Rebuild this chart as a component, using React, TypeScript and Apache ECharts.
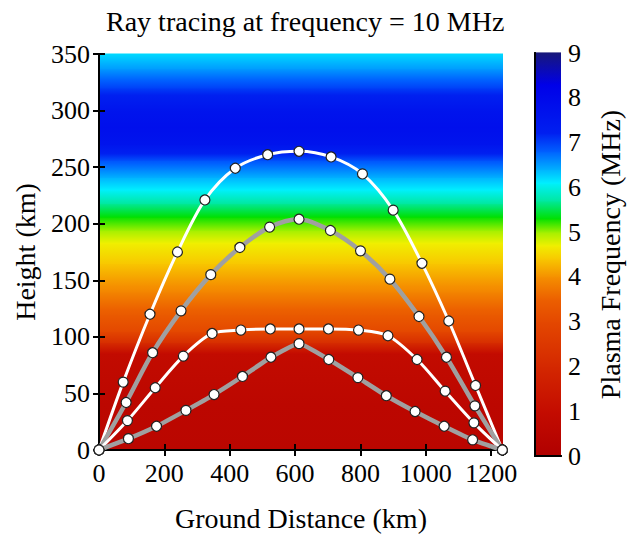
import React, { useEffect, useRef } from 'react';
import * as echarts from 'echarts';

const TITLE = 'Ray tracing at frequency = 10 MHz';
const X_NAME = 'Ground Distance (km)';
const Y_NAME = 'Height (km)';
const CB_NAME = 'Plasma Frequency (MHz)';

const X_MIN = 0;
const X_MAX = 1236;
const Y_MIN = 0;
const Y_MAX = 350;

// plasma frequency profile (height km -> MHz)
const heights = [0, 40, 85, 95, 105, 120, 140, 165, 183, 194, 206, 218, 230, 241, 256, 270, 285, 300, 320, 337, 350];
const plasmaFreq = [0.5, 0.6, 0.9, 2.2, 3.0, 3.4, 3.9, 4.4, 4.7, 5.0, 5.3, 5.7, 6.1, 6.4, 6.9, 7.6, 7.8, 7.6, 7.0, 6.5, 6.2];

// colour scale
const cmapValues = [0, 1, 2, 3, 3.5, 4, 4.4, 4.7, 5.0, 5.3, 5.7, 6.1, 6.4, 6.8, 7.2, 8.3, 9];
const cmapColors = ['#b00000', '#c40c00', '#d42800', '#e44800', '#ec6000', '#f59000', '#f8c800', '#f0f000', '#a0f000', '#00e000', '#00e8a0', '#00f0ff', '#00b0ff', '#0060ff', '#0020f0', '#0000e8', '#181878'];

// ray paths [ground distance km, height km]
const rayA = [[0, 0], [74, 60], [156, 120], [240, 175], [324, 221], [417, 249], [516, 261], [612, 264], [710, 259], [806, 244], [900, 212], [988, 165], [1070, 114], [1152, 57], [1234, 0]];
const rayB = [[0, 0], [83, 42], [164, 86], [251, 123], [342, 155], [431, 179], [522, 197], [612, 204], [708, 194], [800, 176], [890, 151], [979, 118], [1063, 82], [1150, 39], [1234, 0]];
const rayC = [[0, 0], [87, 26], [172, 55], [258, 83], [346, 103], [434, 106], [524, 107], [612, 107], [702, 107], [794, 106], [884, 101], [973, 80], [1059, 52], [1147, 24], [1234, 0]];
const rayD = [[0, 0], [90, 10], [176, 21], [266, 35], [352, 49], [439, 65], [526, 82], [612, 94], [703, 80], [792, 64], [879, 48], [967, 34], [1056, 21], [1143, 9], [1234, 0]];

const rays = [
  { data: rayA, color: '#ffffff', width: 3, smooth: 0.3 },
  { data: rayB, color: '#a0a0a0', width: 4.5, smooth: 0.3 },
  { data: rayC, color: '#ffffff', width: 3, smooth: 0.3 },
  { data: rayD, color: '#a0a0a0', width: 4.5, smooth: 0.15 },
];

const FONT = '"Liberation Serif", "Times New Roman", serif';

function hexToRgb(h: string) {
  return [parseInt(h.slice(1, 3), 16), parseInt(h.slice(3, 5), 16), parseInt(h.slice(5, 7), 16)];
}
function cmap(v: number) {
  const n = cmapValues.length;
  if (v <= cmapValues[0]) return cmapColors[0];
  if (v >= cmapValues[n - 1]) return cmapColors[n - 1];
  let i = 0;
  while (i < n - 2 && v > cmapValues[i + 1]) i++;
  const t = (v - cmapValues[i]) / (cmapValues[i + 1] - cmapValues[i]);
  const a = hexToRgb(cmapColors[i]);
  const b = hexToRgb(cmapColors[i + 1]);
  const c = a.map((x, k) => Math.round(x + (b[k] - x) * t));
  return `rgb(${c[0]},${c[1]},${c[2]})`;
}
// gradient stops for a band whose top value is fTop and bottom value fBot
function bandStops(fTop: number, fBot: number) {
  const stops: { offset: number; color: string }[] = [{ offset: 0, color: cmap(fTop) }];
  const lo = Math.min(fTop, fBot);
  const hi = Math.max(fTop, fBot);
  const mids: number[] = [];
  cmapValues.forEach((c) => {
    if (c > lo && c < hi) mids.push((c - fTop) / (fBot - fTop));
  });
  mids.sort((a, b) => a - b).forEach((t) => {
    stops.push({ offset: t, color: cmap(fTop + (fBot - fTop) * t) });
  });
  stops.push({ offset: 1, color: cmap(fBot) });
  return stops;
}

const fieldBands = heights.slice(0, -1).map((h, i) => [h, heights[i + 1], plasmaFreq[i], plasmaFreq[i + 1]]);
const cbBands = cmapValues.slice(0, -1).map((v, i) => [0.5, v, cmapValues[i + 1]]);

export default function App() {
  const ref = useRef<HTMLDivElement>(null);
  useEffect(() => {
    document.body.style.margin = '0';
    const chart = echarts.init(ref.current!, null, { renderer: 'svg' });
    const lineCommon = { show: true, lineStyle: { color: '#000', width: 2 } };
    const option: any = {
      animation: false,
      backgroundColor: '#fff',
      title: {
        text: TITLE,
        left: 101,
        top: 2,
        textStyle: { fontFamily: FONT, fontSize: 28, fontWeight: 'normal', color: '#000' },
      },
      grid: [
        { left: 99, top: 54, width: 404, height: 400 },
        { left: 535, top: 53, width: 26, height: 403 },
      ],
      xAxis: [
        {
          gridIndex: 0, type: 'value', min: X_MIN, max: X_MAX, interval: 200, position: 'bottom', z: 3,
          name: X_NAME, nameLocation: 'middle', nameGap: 54,
          nameTextStyle: { fontFamily: FONT, fontSize: 28, color: '#000' },
          axisLine: lineCommon,
          axisTick: { show: true, inside: true, length: 6, lineStyle: { color: '#000', width: 2 } },
          axisLabel: { fontFamily: FONT, fontSize: 26, color: '#000', margin: 10, formatter: (v: number) => (v % 200 === 0 ? String(v) : '') },
          splitLine: { show: false },
        },
        {
          gridIndex: 0, type: 'value', min: X_MIN, max: X_MAX, interval: 200, position: 'top', z: 3,
          axisLine: lineCommon,
          axisTick: { show: true, inside: true, length: 6, lineStyle: { color: '#000', width: 2 } },
          axisLabel: { show: false },
          splitLine: { show: false },
        },
        {
          gridIndex: 1, type: 'value', min: 0, max: 1, position: 'bottom', z: 3,
          axisLine: lineCommon, axisTick: { show: false }, axisLabel: { show: false }, splitLine: { show: false },
        },
        {
          gridIndex: 1, type: 'value', min: 0, max: 1, position: 'top', z: 3,
          axisLine: lineCommon, axisTick: { show: false }, axisLabel: { show: false }, splitLine: { show: false },
        },
      ],
      yAxis: [
        {
          gridIndex: 0, type: 'value', min: Y_MIN, max: Y_MAX, interval: 50, position: 'left', z: 3,
          name: Y_NAME, nameLocation: 'middle', nameGap: 60,
          nameTextStyle: { fontFamily: FONT, fontSize: 28, color: '#000' },
          axisLine: lineCommon,
          axisTick: { show: true, inside: true, length: 6, lineStyle: { color: '#000', width: 2 } },
          axisLabel: { fontFamily: FONT, fontSize: 26, color: '#000', margin: 9 },
          splitLine: { show: false },
        },
        {
          gridIndex: 0, type: 'value', min: Y_MIN, max: Y_MAX, interval: 50, position: 'right', z: 3,
          axisLine: lineCommon,
          axisTick: { show: true, inside: true, length: 6, lineStyle: { color: '#000', width: 2 } },
          axisLabel: { show: false },
          splitLine: { show: false },
        },
        {
          gridIndex: 1, type: 'value', min: 0, max: 9, position: 'left', z: 3,
          axisLine: lineCommon, axisTick: { show: false }, axisLabel: { show: false }, splitLine: { show: false },
        },
        {
          gridIndex: 1, type: 'value', min: 0, max: 9, interval: 1, position: 'right', z: 3,
          name: CB_NAME, nameLocation: 'middle', nameGap: 35,
          nameTextStyle: { fontFamily: FONT, fontSize: 28, color: '#000' },
          axisLine: lineCommon, axisTick: { show: false },
          axisLabel: { fontFamily: FONT, fontSize: 26, color: '#000', margin: 7 },
          splitLine: { show: false },
        },
      ],
      series: [
        {
          type: 'custom', xAxisIndex: 0, yAxisIndex: 0, z: 1, silent: true,
          data: fieldBands,
          renderItem: (params: any, api: any) => {
            const h0 = api.value(0), h1 = api.value(1), f0 = api.value(2), f1 = api.value(3);
            const tl = api.coord([X_MIN, h1]);
            const br = api.coord([X_MAX, h0]);
            return {
              type: 'rect',
              shape: { x: tl[0], y: tl[1] - 0.6, width: br[0] - tl[0], height: br[1] - tl[1] + 1.2 },
              style: { fill: new echarts.graphic.LinearGradient(0, 0, 0, 1, bandStops(f1, f0)) },
            };
          },
        },
        {
          type: 'custom', xAxisIndex: 2, yAxisIndex: 3, z: 1, silent: true,
          data: cbBands,
          renderItem: (params: any, api: any) => {
            const v0 = api.value(1), v1 = api.value(2);
            const tl = api.coord([0, v1]);
            const br = api.coord([1, v0]);
            return {
              type: 'rect',
              shape: { x: tl[0], y: tl[1] - 0.6, width: br[0] - tl[0], height: br[1] - tl[1] + 1.2 },
              style: { fill: new echarts.graphic.LinearGradient(0, 0, 0, 1, bandStops(v1, v0)) },
            };
          },
        },
        ...rays.map((r) => ({
          type: 'line', xAxisIndex: 0, yAxisIndex: 0, z: 4, silent: true,
          data: r.data, smooth: r.smooth, symbol: 'none',
          lineStyle: { color: r.color, width: r.width },
        })),
        ...rays.map((r) => ({
          type: 'scatter', xAxisIndex: 0, yAxisIndex: 0, z: 5, silent: true,
          data: r.data, symbol: 'circle', symbolSize: 10,
          itemStyle: { color: '#ffffff', borderColor: '#222', borderWidth: 1.2, opacity: 1 },
        })),
      ],
    };
    chart.setOption(option);
    return () => chart.dispose();
  }, []);
  return <div ref={ref} style={{ width: 629, height: 537 }} />;
}
